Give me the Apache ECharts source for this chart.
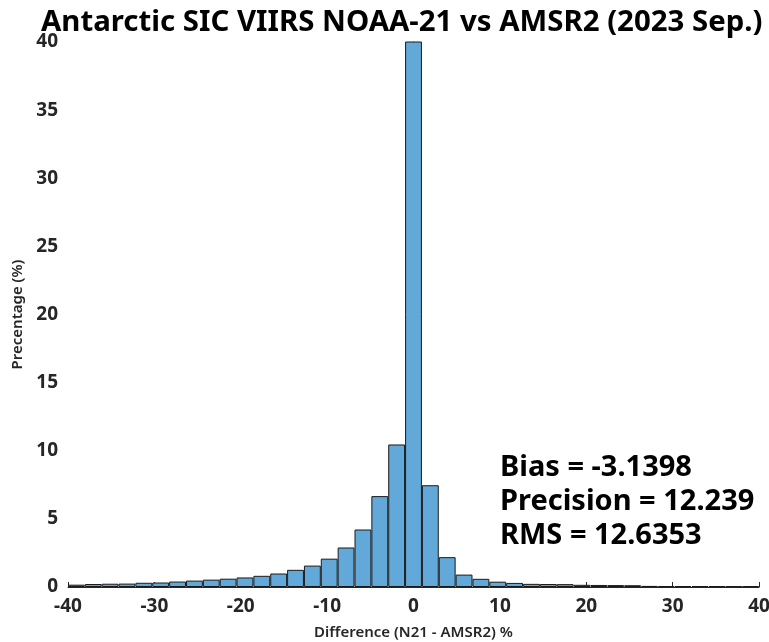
<!DOCTYPE html>
<html>
<head>
<meta charset="utf-8">
<title>Antarctic SIC VIIRS NOAA-21 vs AMSR2</title>
<script src="https://cdn.jsdelivr.net/npm/echarts@6/dist/echarts.min.js"></script>
<style>
  html, body { margin: 0; padding: 0; background: #fff; }
  #main { width: 769px; height: 642px; }
</style>
</head>
<body>
<div id="main"></div>
<script>
// 41 bins spanning -40..40 (bin width 80/41), percentages
var binLabels = [];
for (var i = 0; i < 41; i++) binLabels.push('b' + i);
var percentages = [
  0.17, 0.22, 0.24, 0.25, 0.31, 0.33, 0.40, 0.47, 0.54, 0.61,
  0.70, 0.82, 0.99, 1.26, 1.57, 2.08, 2.90, 4.22, 6.67, 10.46,
  45.0,
  7.47, 2.19, 0.91, 0.60, 0.39, 0.30, 0.23, 0.22, 0.21, 0.16,
  0.15, 0.14, 0.13, 0.08, 0.07, 0.07, 0.06, 0.06, 0.05, 0.05
];
var xTicks = [-40, 40, 10];   // min, max, step
var yTicks = [0, 40, 5];
var statsLines = ['Bias = -3.1398', 'Precision = 12.239', 'RMS = 12.6353'];

var axisColor = '#262626';
var myChart = echarts.init(document.getElementById('main'));

var option = {
  animation: false,
  title: {
    text: 'Antarctic SIC VIIRS NOAA-21 vs AMSR2 (2023 Sep.)',
    left: 36, top: 3,
    textStyle: { fontFamily: 'Noto Sans', fontWeight: 'bold', fontSize: 29.4, color: '#000' }
  },
  grid: { left: 68, right: 10, top: 42, bottom: 55, outerBoundsMode: 'none', containLabel: false },
  xAxis: [{
    type: 'value',
    min: xTicks[0], max: xTicks[1], interval: xTicks[2],
    name: 'Difference (N21 - AMSR2) %',
    nameLocation: 'middle', nameGap: 38,
    nameTextStyle: { fontFamily: 'Noto Sans', fontWeight: 600, fontSize: 15, color: axisColor },
    axisLine: { lineStyle: { color: axisColor, width: 1 } },
    axisTick: { inside: true, length: 5, lineStyle: { color: axisColor } },
    axisLabel: { margin: 10, fontFamily: 'Noto Sans', fontWeight: 'bold', fontSize: 19, color: axisColor },
    splitLine: { show: false }
  }, {
    type: 'category',
    data: binLabels,
    show: false,
    boundaryGap: true
  }],
  yAxis: {
    type: 'value',
    min: yTicks[0], max: yTicks[1], interval: yTicks[2],
    name: 'Precentage (%)',
    nameLocation: 'middle', nameGap: 40, nameRotate: 90,
    nameTextStyle: { fontFamily: 'Noto Sans', fontWeight: 600, fontSize: 15, color: axisColor },
    axisLine: { show: true, lineStyle: { color: axisColor, width: 1 } },
    axisTick: { show: true, inside: true, length: 5, lineStyle: { color: axisColor } },
    axisLabel: { margin: 10, fontFamily: 'Noto Sans', fontWeight: 'bold', fontSize: 19, color: axisColor },
    splitLine: { show: false }
  },
  series: [{
    type: 'bar',
    xAxisIndex: 1,
    data: percentages,
    barCategoryGap: '0%',
    clip: true,
    itemStyle: { color: '#62a8d8', borderColor: '#1a1a1a', borderWidth: 1 }
  }],
  graphic: statsLines.map(function (t, i) {
    return {
      type: 'text', left: 500, top: 453 + i * 34,
      style: { text: t, font: 'bold 29px "Noto Sans"', fill: '#000' }
    };
  })
};

myChart.setOption(option);
</script>
</body>
</html>
